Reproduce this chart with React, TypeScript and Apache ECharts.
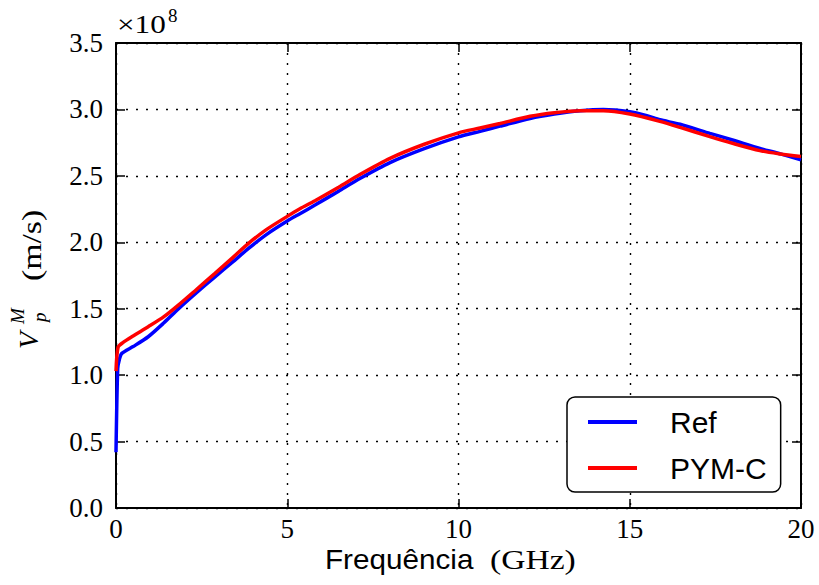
import React, { useEffect, useRef } from "react";
import * as echarts from "echarts";

// Values in units of 1e8 m/s
const refFreq = [0, 0.05, 0.1, 0.17, 0.5, 0.94, 1.4, 1.82, 2.35, 2.89, 3.4, 3.86, 4.4, 5.0, 5.37, 5.81, 6.5, 7.12, 8, 9, 10, 10.63, 11.21, 12.09, 12.8, 13.55, 14.23, 15, 15.5, 15.88, 16.47, 17.34, 18, 18.8, 19.4, 20];
const refVals = [0.42, 1.05, 1.12, 1.164, 1.215, 1.289, 1.394, 1.498, 1.62, 1.74, 1.85, 1.952, 2.06, 2.16, 2.215, 2.28, 2.385, 2.48, 2.6, 2.705, 2.794, 2.835, 2.874, 2.932, 2.965, 2.99, 3.0, 2.982, 2.952, 2.922, 2.888, 2.82, 2.77, 2.707, 2.665, 2.62];

const pymFreq = [0, 0.06, 0.2, 0.5, 0.94, 1.4, 1.82, 2.35, 2.89, 3.4, 3.86, 4.4, 5.0, 5.37, 5.81, 6.5, 7.12, 8, 9, 10, 10.63, 11.21, 12.09, 12.8, 13.55, 14.23, 15, 15.88, 16.47, 17.34, 18, 18.8, 19.4, 20];
const pymVals = [1.03, 1.21, 1.245, 1.295, 1.364, 1.44, 1.527, 1.645, 1.766, 1.883, 1.99, 2.097, 2.195, 2.252, 2.313, 2.415, 2.51, 2.632, 2.738, 2.824, 2.86, 2.894, 2.948, 2.975, 2.99, 2.99, 2.965, 2.91, 2.865, 2.795, 2.745, 2.69, 2.665, 2.645];

const seriesNames = ["Ref", "PYM-C"];
const seriesColors = ["#0000ff", "#ff0000"];

const xMin = 0, xMax = 20, xStep = 5;
const yMin = 0, yMax = 3.5, yStep = 0.5;

const serif = "Liberation Serif, DejaVu Serif, serif";
const sans = "Liberation Sans, Arial, sans-serif";

export default function App() {
  const ref = useRef<HTMLDivElement>(null);
  useEffect(() => {
    if (!ref.current) return;
    const chart = echarts.init(ref.current, undefined, { renderer: "svg" });
    const axisLine = { show: true, onZero: false, lineStyle: { color: "#000", width: 2 } };
    const tick = { show: true, inside: true, length: 9, lineStyle: { color: "#000", width: 1.5 } };
    const grid = { show: true, lineStyle: { color: "#000", type: [2, 8] as any, width: 1.4 } };
    const txt = (text: string, x: number, y: number, family: string, size: number, extra: any = {}, italic = false) => ({
      type: "text",
      x,
      y,
      ...extra,
      style: {
        text,
        fontFamily: family,
        fontSize: size,
        fontStyle: italic ? "italic" : "normal",
        fill: "#000",
        align: "left",
        verticalAlign: "middle",
      },
    });
    const option: any = {
      animation: false,
      backgroundColor: "#fff",
      grid: { left: 116, top: 43, width: 685, height: 465 },
      xAxis: [
        {
          type: "value", min: xMin, max: xMax, interval: xStep, position: "bottom",
          axisLine, axisTick: tick, splitLine: grid,
          axisLabel: { fontFamily: serif, fontSize: 27, color: "#000", margin: 7 },
        },
        {
          type: "value", min: xMin, max: xMax, interval: xStep, position: "top",
          axisLine, axisTick: tick, splitLine: { show: false }, axisLabel: { show: false },
        },
      ],
      yAxis: [
        {
          type: "value", min: yMin, max: yMax, interval: yStep, position: "left",
          axisLine, axisTick: tick, splitLine: grid,
          axisLabel: { fontFamily: serif, fontSize: 27, color: "#000", margin: 13, formatter: (v: number) => v.toFixed(1) },
        },
        {
          type: "value", min: yMin, max: yMax, interval: yStep, position: "right",
          axisLine, axisTick: tick, splitLine: { show: false }, axisLabel: { show: false },
        },
      ],
      legend: {
        data: seriesNames,
        orient: "vertical",
        left: 567,
        top: 397,
        padding: [10, 14, 9, 21],
        itemWidth: 49,
        itemHeight: 4,
        itemGap: 16,
        icon: "rect",
        textStyle: { fontFamily: sans, fontSize: 30, color: "#000", padding: [0, 0, 0, 28] },
        backgroundColor: "#fff",
        borderColor: "#000",
        borderWidth: 1.5,
        borderRadius: 8,
        z: 10,
      },
      series: [
        {
          name: seriesNames[0], type: "line", xAxisIndex: 0, yAxisIndex: 0,
          data: refFreq.map((f, i) => [f, refVals[i]]),
          showSymbol: false, smooth: 0.25, color: seriesColors[0],
          lineStyle: { width: 3.5, color: seriesColors[0] },
        },
        {
          name: seriesNames[1], type: "line", xAxisIndex: 0, yAxisIndex: 0,
          data: pymFreq.map((f, i) => [f, pymVals[i]]),
          showSymbol: false, smooth: 0.25, color: seriesColors[1],
          lineStyle: { width: 3.5, color: seriesColors[1] },
        },
      ],
      graphic: [
        txt("×10", 117, 24, serif, 26, { scaleX: 1.2 }),
        txt("8", 168, 15, serif, 19),
        txt("Frequência", 325, 559, sans, 28, { scaleX: 1.06 }),
        txt("(GHz)", 490, 559, serif, 28, { scaleX: 1.2 }),
        txt("V", 28, 349, serif, 28, { rotation: Math.PI / 2 }, true),
        txt("p", 39, 322, serif, 19, { rotation: Math.PI / 2 }, true),
        txt("M", 17, 324, serif, 19, { rotation: Math.PI / 2 }, true),
        txt("(m/s)", 32, 281, serif, 27, { rotation: Math.PI / 2, scaleX: 1.25 }),
      ],
    };
    chart.setOption(option);
    return () => chart.dispose();
  }, []);
  return (
    <div
      ref={ref}
      style={{ position: "fixed", left: 0, top: 0, width: 819, height: 585, background: "#fff" }}
    />
  );
}
